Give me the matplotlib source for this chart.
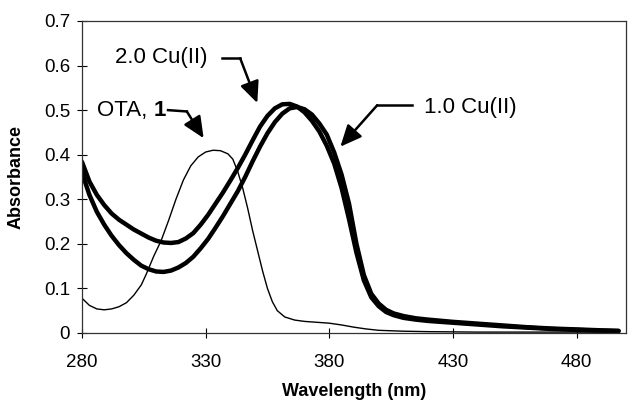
import matplotlib
matplotlib.use('Agg')
import matplotlib.pyplot as plt

plt.rcParams['font.family'] = ['Liberation Sans', 'DejaVu Sans']

# OTA, 1 (thin line)
wl_ota = [280, 283, 286, 289, 292, 295, 298, 301, 304, 306, 309, 312, 315, 318, 321, 324,
          327, 330, 333, 336, 339, 341, 343, 345, 347, 349, 351, 353, 355, 357, 359, 362,
          366, 370, 375, 380, 385, 390, 395, 400, 410, 420, 440, 470, 497]
abs_ota = [0.078, 0.062, 0.054, 0.052, 0.054, 0.059, 0.068, 0.085, 0.108, 0.132, 0.172,
           0.207, 0.252, 0.300, 0.343, 0.375, 0.395, 0.406, 0.410, 0.409, 0.402, 0.390,
           0.362, 0.325, 0.280, 0.230, 0.185, 0.140, 0.100, 0.070, 0.050, 0.036, 0.029,
           0.026, 0.024, 0.022, 0.018, 0.013, 0.009, 0.006, 0.004, 0.003, 0.002, 0.002, 0.002]

# 2.0 Cu(II) and 1.0 Cu(II) (thick lines)
wl_cu = [280, 283, 286, 289, 292, 295, 298, 301, 304, 307, 310, 313, 316, 319, 322, 325,
         328, 331, 334, 337, 340, 343, 346, 349, 352, 355, 358, 361, 364, 367, 370, 373,
         376, 379, 382, 385, 388, 391, 394, 397, 400, 403, 406, 410, 415, 420, 430, 440,
         450, 460, 470, 480, 490, 497]
abs_cu2 = [0.384, 0.340, 0.310, 0.287, 0.268, 0.254, 0.243, 0.232, 0.223, 0.214, 0.207,
           0.203, 0.202, 0.204, 0.212, 0.224, 0.243, 0.265, 0.290, 0.315, 0.342, 0.370,
           0.400, 0.432, 0.463, 0.487, 0.504, 0.513, 0.514, 0.508, 0.495, 0.476, 0.452,
           0.420, 0.380, 0.325, 0.255, 0.180, 0.118, 0.080, 0.060, 0.047, 0.040, 0.034,
           0.030, 0.027, 0.023, 0.019, 0.015, 0.012, 0.009, 0.007, 0.005, 0.004]
abs_cu1 = [0.360, 0.310, 0.272, 0.243, 0.218, 0.197, 0.179, 0.164, 0.151, 0.143, 0.138,
           0.137, 0.140, 0.147, 0.157, 0.171, 0.190, 0.211, 0.236, 0.262, 0.290, 0.318,
           0.350, 0.385, 0.418, 0.448, 0.473, 0.492, 0.504, 0.507, 0.502, 0.490, 0.470,
           0.445, 0.405, 0.355, 0.290, 0.200, 0.130, 0.088, 0.066, 0.052, 0.044, 0.038,
           0.033, 0.030, 0.025, 0.021, 0.017, 0.013, 0.010, 0.008, 0.006, 0.005]

x_ticks = [280, 330, 380, 430, 480]
y_ticks = [0, 0.1, 0.2, 0.3, 0.4, 0.5, 0.6, 0.7]
y_labels = ['0', '0.1', '0.2', '0.3', '0.4', '0.5', '0.6', '0.7']

fig = plt.figure(figsize=(6.32, 4.05), dpi=100)
ax = fig.add_axes([0.1297, 0.1778, 0.8608, 0.7704])

ax.plot(wl_ota, abs_ota, color='black', lw=1.0)
ax.plot(wl_cu, abs_cu1, color='black', lw=3.2, solid_capstyle='round')
ax.plot(wl_cu, abs_cu2, color='black', lw=3.2, solid_capstyle='round')

ax.set_xlim(280, 500)
ax.set_ylim(0, 0.7)
ax.set_xticks(x_ticks)
ax.set_yticks(y_ticks)
ax.set_yticklabels(y_labels)
ax.tick_params(direction='inout', length=7, width=0.8, labelsize=13.5)
ax.tick_params(axis='x', pad=11.5)
ax.tick_params(axis='y', pad=5)
for s in ax.spines.values():
    s.set_linewidth(0.9)
    s.set_color('#333333')

ax.set_xlabel('Wavelength (nm)', fontsize=13, fontweight='bold', labelpad=9)
ax.set_ylabel('Absorbance', fontsize=13, fontweight='bold', labelpad=14)

# annotations: text, a short horizontal leader, then an arrow
head = dict(arrowstyle='-|>,head_length=1.0,head_width=0.45', color='black', lw=1.8,
            shrinkA=0, shrinkB=0, mutation_scale=13)

ax.text(293.4, 0.619, '2.0 Cu(II)', fontsize=16, ha='left', va='center')
ax.plot([336.6, 344], [0.616, 0.616], color='black', lw=1.8)
ax.annotate('', xy=(350.9, 0.516), xytext=(344, 0.616), arrowprops=head)

t = ax.text(286.1, 0.5, 'OTA, ', fontsize=16, ha='left', va='center')
ax.annotate('1', xy=(1, 0), xycoords=t, fontsize=16, fontweight='bold',
            ha='left', va='bottom')
ax.plot([314.8, 322.4], [0.5, 0.497], color='black', lw=1.8)
ax.annotate('', xy=(329.2, 0.437), xytext=(322.4, 0.497), arrowprops=head)

ax.text(418.2, 0.507, '1.0 Cu(II)', fontsize=16, ha='left', va='center')
ax.plot([413.6, 399.4], [0.511, 0.511], color='black', lw=1.8)
ax.annotate('', xy=(384.5, 0.418), xytext=(399.4, 0.511), arrowprops=head)

fig.savefig('out.png', dpi=100)
